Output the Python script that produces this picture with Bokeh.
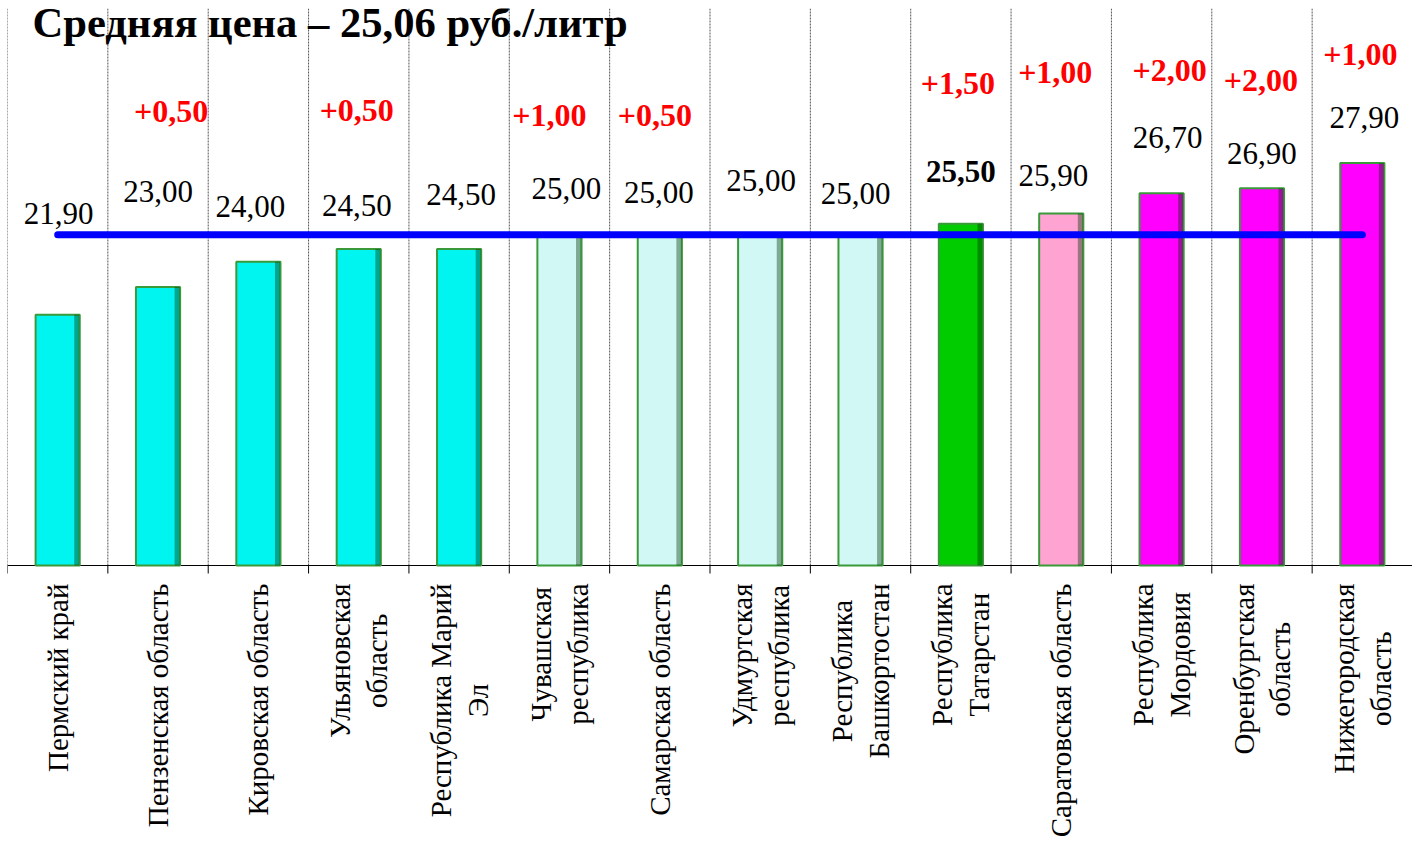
import math
from bokeh.plotting import figure
from bokeh.models import ColumnDataSource, Range1d
from bokeh.core.properties import value
from bokeh.embed import file_html
from bokeh.resources import INLINE

# ---------------- data ----------------
regions = [
    "Пермский край",
    "Пензенская область",
    "Кировская область",
    "Ульяновская\nобласть",
    "Республика Марий\nЭл",
    "Чувашская\nреспублика",
    "Самарская область",
    "Удмуртская\nреспублика",
    "Республика\nБашкортостан",
    "Республика\nТатарстан",
    "Саратовская область",
    "Республика\nМордовия",
    "Оренбургская\nобласть",
    "Нижегородская\nобласть",
]
prices = [21.90, 23.00, 24.00, 24.50, 24.50, 25.00, 25.00, 25.00, 25.00, 25.50, 25.90, 26.70, 26.90, 27.90]
changes = [None, 0.50, None, 0.50, None, 1.00, 0.50, None, None, 1.50, 1.00, 2.00, 2.00, 1.00]
groups = ["low"] * 5 + ["mid"] * 4 + ["own"] + ["near"] + ["high"] * 3
avg_price = 25.06
title_text = "Средняя цена – 25,06 руб./литр"

# ---------------- styles / layout ----------------
group_colors = {"low": "#00F5F0", "mid": "#D2F8F6", "own": "#00CC00", "near": "#FFA3D3", "high": "#FF00FF"}
value_dx = [1, 0, -8, -2, 2, 7, -1, 1, -5, 0, -8, 6, 0, 2]
value_dy = [-101, -96, -55, -44, -55, -48, -44, -56, -43, -52, -38, -56, -35, -45]
change_dx = [0, 13, 0, -2, 0, -10, -5, 0, 0, -3, -6, 8, -1, -2]
change_dy = [0, -176, 0, -139, 0, -121, -121, 0, 0, -140, -141, -123, -108, -108]

SERIF = "Liberation Serif"
n = len(regions)
centers = [i + 0.5 for i in range(n)]
bounds = list(range(n + 1))
Y0, Y1 = 12, 34                  # value axis range of the bar area
PLOT_H, LABEL_H = 557, 277       # px: bar area height, category-label band height
ppu = PLOT_H / (Y1 - Y0)         # px per value unit
y_bottom = Y0 - LABEL_H / ppu    # extend frame downwards to hold the category labels
tick_len = 8 / ppu

def fmt(v):
    return f"{v:.2f}".replace(".", ",")

bar_src = ColumnDataSource(dict(
    x=centers, top=prices, color=[group_colors[g] for g in groups],
    edge=[c + 0.19 for c in centers],
))
val_src = ColumnDataSource(dict(
    x=centers, y=prices, text=[fmt(v) for v in prices],
    dx=value_dx, dy=value_dy,
    style=["bold" if g == "own" else "normal" for g in groups],
))
ci = [i for i, c in enumerate(changes) if c is not None]
chg_src = ColumnDataSource(dict(
    x=[centers[i] for i in ci], y=[prices[i] for i in ci],
    text=["+" + fmt(changes[i]) for i in ci],
    dx=[change_dx[i] for i in ci], dy=[change_dy[i] for i in ci],
))

p = figure(frame_width=1405, frame_height=PLOT_H + LABEL_H, output_backend="svg",
           toolbar_location=None, x_range=Range1d(0, n), y_range=Range1d(y_bottom, Y1),
           x_axis_location=None, y_axis_location=None,
           min_border_left=7, min_border_right=0, min_border_top=8, min_border_bottom=0)
p.outline_line_color = None
p.background_fill_color = "white"
p.border_fill_color = "white"
p.grid.visible = False

# vertical dotted lines at category boundaries
p.segment(x0=bounds, x1=bounds, y0=[Y0] * len(bounds), y1=[Y1] * len(bounds),
          line_color="#555555", line_dash="2 1", line_width=1)
# category axis line and boundary ticks
p.segment(x0=[0], x1=[n], y0=[Y0], y1=[Y0], line_color="black", line_width=1)
p.segment(x0=bounds, x1=bounds, y0=[Y0] * len(bounds), y1=[Y0 - tick_len] * len(bounds),
          line_color="black", line_width=1)

# bars
p.vbar(x="x", top="top", bottom=Y0, width=0.44, source=bar_src,
       fill_color="color", line_color="#3a9a3a", line_width=2)
p.vbar(x="edge", top="top", bottom=Y0, width=0.05, source=bar_src,
       fill_color="#003300", fill_alpha=0.4, line_color=None)

# average line
p.line(x=[centers[0], centers[-1]], y=[avg_price, avg_price],
       line_color="#0000FF", line_width=7, line_cap="round")

# value labels
p.text(x="x", y="y", text="text", x_offset="dx", y_offset="dy", source=val_src,
       text_font=value(SERIF), text_font_size="31px", text_font_style="style",
       text_align="center", text_baseline="middle", text_color="black")
p.text(x="x", y="y", text="text", x_offset="dx", y_offset="dy", source=chg_src,
       text_font=value(SERIF), text_font_size="32px", text_font_style="bold",
       text_align="center", text_baseline="middle", text_color="#FF0000")

# title (anchored at the top-left corner of the frame)
p.text(x=[0], y=[Y1], text=[title_text], x_offset=25, y_offset=14,
       text_font=value(SERIF), text_font_size="42.6px", text_font_style="bold",
       text_align="left", text_baseline="alphabetic", text_color="black")

# category names: rotated, centred multi-line labels hanging below the axis
p.text(x=centers, y=[Y0] * n, text=regions, angle=math.pi / 2, anchor="center_right",
       y_offset=18, text_align="center", text_font=value(SERIF),
       text_font_size="29px", text_color="black", text_line_height=1.15)

open("out.html", "w").write(file_html(p, INLINE))
